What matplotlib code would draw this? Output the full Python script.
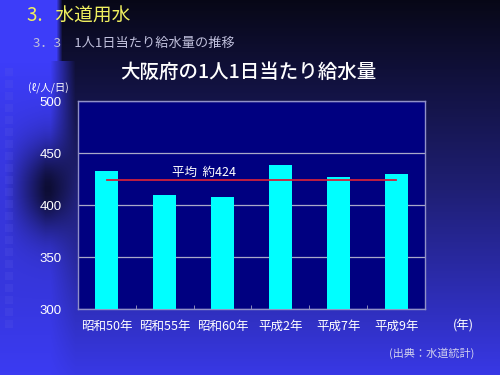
import numpy as np
import matplotlib
matplotlib.use("Agg")
import matplotlib.pyplot as plt

plt.rcParams['font.family'] = ['Noto Sans CJK JP', 'DejaVu Sans']

categories = ["昭和50年", "昭和55年", "昭和60年", "平成2年", "平成7年", "平成9年"]
values = [433, 410, 408, 438, 427, 430]
average = 424
avg_label = "平均  約424"
title = "大阪府の1人1日当たり給水量"
header = "3.   水道用水"
subtitle = "3．3　1人1日当たり給水量の推移"
ylabel = "(ℓ/人/日)"
xunit = "(年)"
source = "(出典：水道統計)"
yticks = [300, 350, 400, 450, 500]

W, H = 500, 375
fig = plt.figure(figsize=(5, 3.75), dpi=100)

# background decoration
yy, xx = np.mgrid[0:H, 0:W]
t = yy / (H - 1)
top = np.array([0.03, 0.03, 0.09])
mid = np.array([0.12, 0.12, 0.45])
bot = np.array([0.22, 0.22, 0.90])
tt = t[..., None]
img = np.where(tt < 0.5, top + (mid - top) * (tt / 0.5), mid + (bot - mid) * ((tt - 0.5) / 0.5))
# left strip
strip_col = np.array([0.24, 0.24, 0.98])
band = np.exp(-((yy - 190) / 45.0) ** 2)
strip = strip_col * (1 - 0.85 * band[..., None] * np.clip((xx[..., None] - 5) / 40.0, 0, 1))
wstrip = np.clip((62 - xx) / 6.0, 0, 1)
wstrip = np.where(yy > 60, np.clip((75 - xx) / 25.0, 0, 1) * np.clip(1 - (yy - 60) / 600.0, 0.6, 1), wstrip)
img = img * (1 - wstrip[..., None]) + strip * wstrip[..., None]
# squares column
for k in range(22):
    y0 = 68 + k * 12
    img[y0:y0 + 8, 5:13] = img[y0:y0 + 8, 5:13] * 0.8 + np.array([0.35, 0.35, 0.9]) * 0.2
img = np.clip(img, 0, 1)
bg = fig.add_axes([0, 0, 1, 1], zorder=-10)
bg.imshow(img, aspect='auto', extent=[0, 1, 0, 1])
bg.axis('off')

ax = fig.add_axes([78 / W, 1 - 309 / H, (425 - 78) / W, (309 - 101) / H])
ax.set_facecolor('#000080')
x = np.arange(len(categories))
ax.bar(x, values, width=0.4, color='#00ffff', zorder=3)
ax.plot([x[0], x[-1]], [average, average], color='#d0203c', lw=1.3, zorder=4)
ax.text(1.68, 431, avg_label, color='white', fontsize=9, ha='center', va='center', zorder=5)

ax.set_xlim(-0.5, len(categories) - 0.5)
ax.set_ylim(300, 500)
ax.set_yticks(yticks)
ax.set_yticklabels([str(v) for v in yticks], color='white', fontsize=9.5,
                   family=['Liberation Sans', 'DejaVu Sans'])
ax.set_xticks(x)
ax.set_xticklabels(categories, color='white', fontsize=9)
ax.set_xticks(np.arange(0.5, len(categories) - 0.5, 1), minor=True)
ax.tick_params(axis='x', which='major', length=0, pad=8)
ax.tick_params(axis='x', which='minor', length=3, direction='in', color='#a0a0c0')
ax.tick_params(axis='y', length=0, pad=12)
ax.grid(axis='y', color='#a8a8c8', lw=0.9, zorder=1)
for s in ax.spines.values():
    s.set_color('#9090c8')
    s.set_linewidth(1.0)

fig.text(27 / W, 1 - 16 / H, header, color='#f0f060', fontsize=13.5, ha='left', va='center')
fig.text(33 / W, 1 - 43 / H, subtitle, color='#c0c0dc', fontsize=9.5, ha='left', va='center')
fig.text(248 / W, 1 - 72 / H, title, color='white', fontsize=14, ha='center', va='center', weight='medium')
fig.text(48 / W, 1 - 88 / H, ylabel, color='white', fontsize=7.5, ha='center', va='center')
fig.text(463 / W, 1 - 326 / H, xunit, color='white', fontsize=9, ha='center', va='center')
fig.text(432 / W, 1 - 353 / H, source, color='#d0d0ee', fontsize=8, ha='center', va='center')

fig.savefig('out.png', dpi=100)
